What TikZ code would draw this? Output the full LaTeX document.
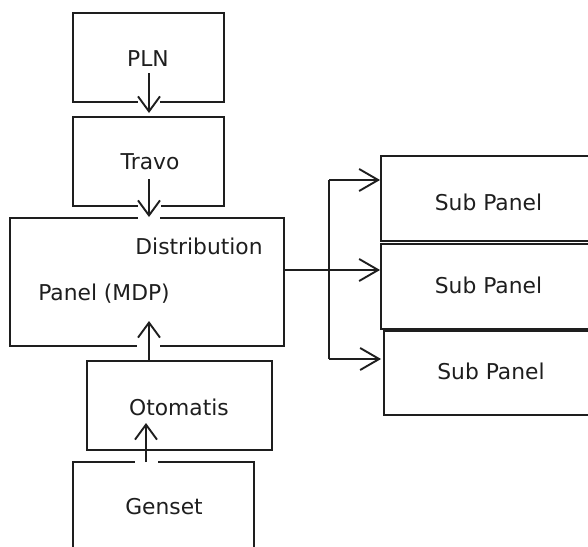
\documentclass[tikz,border=0pt]{standalone}
\usepackage{fontspec}
\setmainfont{DejaVu Sans}
\usetikzlibrary{arrows.meta}
\definecolor{ink}{RGB}{30,30,30}
\begin{document}
\begin{tikzpicture}[x=1pt,y=-1pt,
  box/.style={draw=ink,line width=1.9pt,rectangle,inner sep=0pt,fill=none},
  lbl/.style={text=ink,inner sep=0pt,font=\fontsize{21.8}{26}\selectfont},
  arr/.style={draw=ink,line width=1.9pt,-{Straight Barb[length=15pt,width=22pt,line width=1.9pt]}},
  sarr/.style={draw=ink,line width=1.9pt,-{Straight Barb[length=19pt,width=22pt,line width=1.9pt]}},
  link/.style={draw=ink,line width=1.9pt},
  gap/.style={draw=white,line width=4pt}]
\useasboundingbox (0,0) rectangle (588,546);
\clip (0,0) rectangle (588,546);

% main chain
\node[box,minimum width=151pt,minimum height=89pt] (pln) at (148.5,57.5) {};
\node[lbl] (plnt) at (148,59) {PLN};
\node[box,minimum width=151pt,minimum height=89pt] (travo) at (148.5,161.5) {};
\node[lbl] (travot) at (150,162) {Travo};
\node[box,minimum width=274pt,minimum height=128pt] (mdp) at (147,282) {};
\node[lbl] (mdpa) at (199,246) {Distribution};
\node[lbl] (mdpb) at (104,294) {Panel (MDP)};
\node[box,minimum width=185pt,minimum height=89pt] (oto) at (179.5,405.5) {};
\node[lbl] (otot) at (179,407) {Otomatis};
\node[box,minimum width=181pt,minimum height=90pt] (gen) at (163.5,507) {};
\node[lbl] (gent) at (164,507) {Genset};

% sub panels
\node[box,minimum width=215pt,minimum height=85pt] (sp1) at (488.5,198.5) {};
\node[lbl] (sp1t) at (488.5,202) {Sub Panel};
\node[box,minimum width=215pt,minimum height=85pt] (sp2) at (488.5,286.5) {};
\node[lbl] (sp2t) at (488.5,285) {Sub Panel};
\node[box,minimum width=216pt,minimum height=84pt] (sp3) at (492,373) {};
\node[lbl] (sp3t) at (491,371) {Sub Panel};

% openings where the arrows cross the frames
\draw[gap] (138,102) -- (160,102);
\draw[gap] (138,206) -- (161,206);
\draw[gap] (138,218) -- (160,218);
\draw[gap] (137,346) -- (160,346);
\draw[gap] (135,462) -- (158,462);

% arrow end points
\coordinate (a1) at (149,73);
\coordinate (b1) at (149,113);
\coordinate (a2) at (149,179);
\coordinate (b2) at (149,217);
\coordinate (a3) at (149,360);
\coordinate (b3) at (149,321);
\coordinate (a4) at (146,462);
\coordinate (b4) at (146,423);

\draw[arr] (a1) -- (b1);
\draw[arr] (a2) -- (b2);
\draw[arr] (a3) -- (b3);
\draw[arr] (a4) -- (b4);

% feeder to the sub panels
\coordinate (j) at (329,270);
\coordinate (t1) at (329,180);
\coordinate (t3) at (329,359);
\draw[link] (mdp.east |- j) -- (j);
\draw[link] (t1) -- (t3);
\draw[sarr] (t1) -- (sp1.west |- t1);
\draw[sarr] (j) -- (sp2.west |- j);
\draw[sarr] (t3) -- ([xshift=-2pt]sp3.west |- t3);
\end{tikzpicture}
\end{document}
